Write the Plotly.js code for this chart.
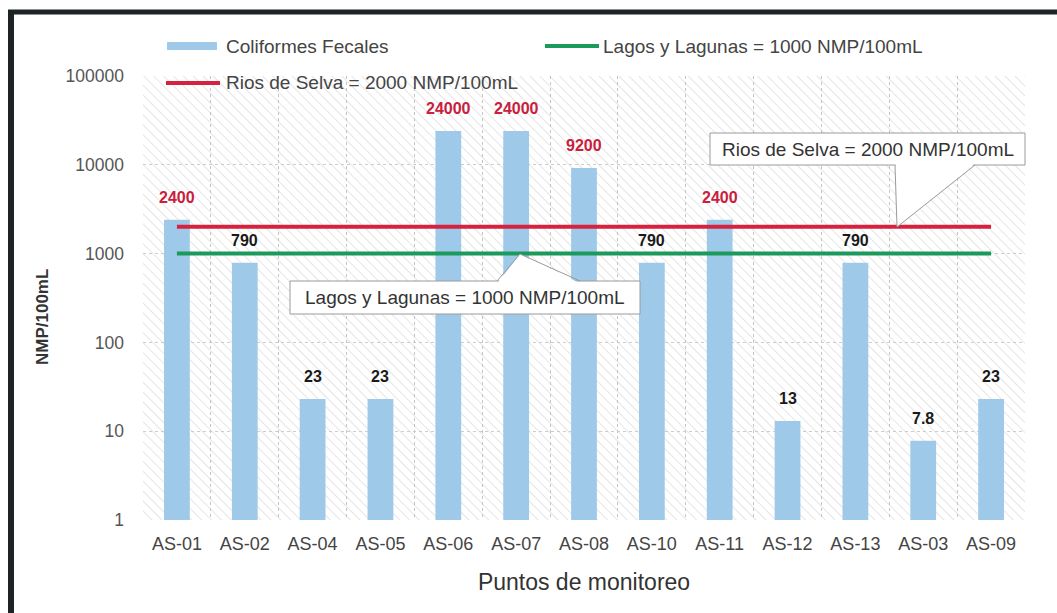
<!DOCTYPE html>
<html>
<head>
<meta charset="utf-8">
<script src="https://cdn.plot.ly/plotly-3.0.1.min.js"></script>
<style>html,body{margin:0;padding:0;background:#fff;}#chart{width:1057px;height:613px;}</style>
</head>
<body>
<div id="chart"></div>
<script>
// ---- data ----
const puntos = ["AS-01","AS-02","AS-04","AS-05","AS-06","AS-07","AS-08","AS-10","AS-11","AS-12","AS-13","AS-03","AS-09"];
const coliformes = [2400, 790, 23, 23, 24000, 24000, 9200, 790, 2400, 13, 790, 7.8, 23];
const coliformesLabels = ["2400","790","23","23","24000","24000","9200","790","2400","13","790","7.8","23"];
const limiteRios = 2000;
const limiteLagos = 1000;
const yTickVals = [1, 10, 100, 1000, 10000, 100000];
const yTickText = ["1", "10", "100", "1000", "10000", "100000"];
const nombreColiformes = "Coliformes Fecales";
const nombreLagos = "Lagos y Lagunas = 1000 NMP/100mL";
const nombreRios = "Rios de Selva = 2000 NMP/100mL";

// ---- layout helpers (pixel -> paper) ----
const W = 1057, H = 613, L = 143, R = 32, T = 76, B = 93;
const PW = W - L - R, PH = H - T - B;
const px = v => (v - L) / PW;
const py = v => (H - B - v) / PH;

const font = "Liberation Sans, Arial, sans-serif";
const redTxt = "#c9203d";
const barColor = "#9fc9e8";
const greenColor = "#1b9a5c";
const redColor = "#d7223f";

const hatch = "<svg xmlns='http://www.w3.org/2000/svg' width='" + PW + "' height='" + PH + "'>" +
  "<defs><pattern id='p' width='7' height='7' patternUnits='userSpaceOnUse' patternTransform='rotate(-45)'>" +
  "<line x1='0' y1='0' x2='0' y2='7' stroke='#c6c6c6' stroke-width='0.9'/></pattern></defs>" +
  "<rect width='100%' height='100%' fill='url(#p)'/></svg>";

const traces = [
  {
    type: "bar", name: nombreColiformes, x: puntos, y: coliformes,
    marker: {color: barColor}, showlegend: false
  },
  {
    type: "scatter", mode: "lines", name: nombreLagos,
    x: [puntos[0], puntos[puntos.length - 1]], y: [limiteLagos, limiteLagos],
    line: {color: greenColor, width: 4}, showlegend: false
  },
  {
    type: "scatter", mode: "lines", name: nombreRios,
    x: [puntos[0], puntos[puntos.length - 1]], y: [limiteRios, limiteRios],
    line: {color: redColor, width: 4}, showlegend: false
  }
];

const annotations = puntos.map((p, i) => ({
  x: p, y: Math.log10(coliformes[i]), xref: "x", yref: "y",
  text: "<b>" + coliformesLabels[i] + "</b>", showarrow: false,
  xanchor: "center", yanchor: "bottom", yshift: 12,
  font: {family: font, size: 16, color: coliformes[i] > limiteRios ? redTxt : "#1a1a1a"}
}));

function paperText(text, x, y, size, color, xanchor, extra) {
  return Object.assign({
    xref: "paper", yref: "paper", x: px(x), y: py(y), text: text, showarrow: false,
    xanchor: xanchor, yanchor: "middle", font: {family: font, size: size, color: color}
  }, extra || {});
}

// callout texts
annotations.push(paperText(nombreRios, (710 + 1025) / 2, 149, 19, "#333", "center"));
annotations.push(paperText(nombreLagos, (290 + 640) / 2, 297.5, 19, "#333", "center"));
// legend texts
annotations.push(paperText(nombreColiformes, 224, 46, 19, "#444", "left"));
annotations.push(paperText(nombreLagos, 601, 46, 19, "#444", "left"));
annotations.push(paperText(nombreRios, 224, 83, 19, "#444", "left"));
// y axis title
annotations.push(paperText("<b>NMP/100mL</b>", 42, 317, 17, "#333", "center", {textangle: -90}));

const boxLine = {color: "#9a9a9a", width: 1};
const P = "paper";
const shapes = [
  // outer frame (left & top)
  {type: "line", xref: P, yref: P, x0: px(11), x1: px(11), y0: py(11), y1: py(613), line: {color: "#1e2326", width: 6}},
  {type: "line", xref: P, yref: P, x0: px(8), x1: px(1057), y0: py(12), y1: py(12), line: {color: "#1e2326", width: 5}},
  // legend symbols
  {type: "rect", xref: P, yref: P, x0: px(167), x1: px(217), y0: py(50), y1: py(42), fillcolor: barColor, line: {width: 0}},
  {type: "line", xref: P, yref: P, x0: px(545), x1: px(599), y0: py(46), y1: py(46), line: {color: greenColor, width: 4}},
  {type: "line", xref: P, yref: P, x0: px(166), x1: px(220), y0: py(83), y1: py(83), line: {color: redColor, width: 4}},
  // Rios callout
  {type: "rect", xref: P, yref: P, x0: px(710), x1: px(1025), y0: py(165), y1: py(133), fillcolor: "#fff", line: boxLine},
  {type: "path", xref: P, yref: P,
   path: "M " + px(895.5) + " " + py(163) + " L " + px(897) + " " + py(227) + " L " + px(975) + " " + py(163) + " Z",
   fillcolor: "#fff", line: {width: 0}},
  {type: "line", xref: P, yref: P, x0: px(895), y0: py(165), x1: px(897), y1: py(227), line: boxLine},
  {type: "line", xref: P, yref: P, x0: px(975), y0: py(165), x1: px(897), y1: py(227), line: boxLine},
  // Lagos callout
  {type: "rect", xref: P, yref: P, x0: px(290), x1: px(640), y0: py(314), y1: py(281), fillcolor: "#fff", line: boxLine},
  {type: "path", xref: P, yref: P,
   path: "M " + px(497.5) + " " + py(283) + " L " + px(520) + " " + py(254) + " L " + px(579.5) + " " + py(283) + " Z",
   fillcolor: "#fff", line: {width: 0}},
  {type: "line", xref: P, yref: P, x0: px(497), y0: py(281), x1: px(520), y1: py(254), line: boxLine},
  {type: "line", xref: P, yref: P, x0: px(580), y0: py(281), x1: px(520), y1: py(254), line: boxLine}
];

const layout = {
  width: W, height: H,
  margin: {l: L, r: R, t: T, b: B, pad: 0},
  paper_bgcolor: "#fff", plot_bgcolor: "#fff",
  font: {family: font, color: "#444"},
  bargap: 0.62,
  showlegend: false,
  xaxis: {
    type: "category", tickson: "boundaries", ticks: "",
    showgrid: true, gridcolor: "#c4c4c4", griddash: "dot", gridwidth: 1,
    showline: false, zeroline: false,
    tickfont: {family: font, size: 18, color: "#444"},
    ticklabelstandoff: 11,
    title: {text: "Puntos de monitoreo", font: {family: font, size: 23, color: "#333"}, standoff: 20}
  },
  yaxis: {
    type: "log", range: [0, 5], tickvals: yTickVals, ticktext: yTickText,
    showgrid: true, gridcolor: "#cdcdcd", griddash: "dot", gridwidth: 1,
    zeroline: false, showline: false, ticks: "",
    tickfont: {family: font, size: 17.5, color: "#555"},
    ticklabelstandoff: 18
  },
  images: [{
    source: "data:image/svg+xml;charset=utf-8," + encodeURIComponent(hatch),
    xref: "paper", yref: "paper", x: 0, y: 1, sizex: 1, sizey: 1,
    xanchor: "left", yanchor: "top", sizing: "stretch", layer: "below"
  }],
  annotations: annotations,
  shapes: shapes
};

Plotly.newPlot("chart", traces, layout, {displayModeBar: false, staticPlot: true});
</script>
</body>
</html>
